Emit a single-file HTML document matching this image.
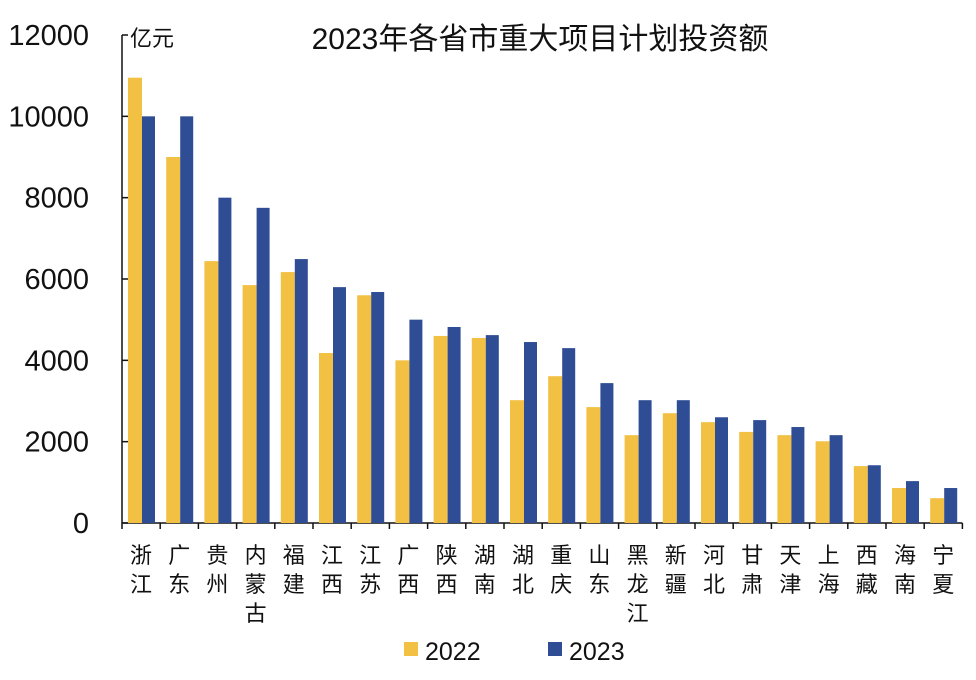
<!DOCTYPE html>
<html><head><meta charset="utf-8"><style>
body{margin:0;background:#fff;}
svg text{font-family:"Liberation Sans","Noto Sans CJK SC",sans-serif;}
</style></head><body>
<svg id="c" width="976" height="675" viewBox="0 0 976 675" xmlns="http://www.w3.org/2000/svg">
<text x="540" y="49" font-size="30" text-anchor="middle" fill="#111">2023年各省市重大项目计划投资额</text>
<text x="130" y="46" font-size="22" fill="#111">亿元</text>
<g id="axes"></g><g id="bars"></g><g id="labels"></g>
<g>
<rect x="404" y="642" width="14" height="14" fill="#f2c144"/>
<text x="425" y="660" font-size="25" fill="#111">2022</text>
<rect x="548" y="642" width="14" height="14" fill="#2e4d94"/>
<text x="569" y="660" font-size="25" fill="#111">2023</text>
</g>
</svg>
<script>
const categories=["浙江","广东","贵州","内蒙古","福建","江西","江苏","广西","陕西","湖南","湖北","重庆","山东","黑龙江","新疆","河北","甘肃","天津","上海","西藏","海南","宁夏"];
const values2022=[10950,9000,6440,5850,6170,4180,5600,4000,4600,4550,3020,3610,2850,2160,2700,2480,2240,2160,2010,1400,860,610];
const values2023=[10000,10000,8000,7750,6490,5800,5680,5000,4820,4620,4450,4300,3440,3020,3020,2600,2530,2360,2160,1420,1030,860];
const yTicks=[0,2000,4000,6000,8000,10000,12000];
const NS="http://www.w3.org/2000/svg";
const x0=122,bw=38.2,y0=523,yTop=35,yMax=12000;
const y=v=>y0-(v/yMax)*(y0-yTop);
const xc=i=>x0+i*bw;
function mk(t,a,p){const e=document.createElementNS(NS,t);for(const k in a)e.setAttribute(k,a[k]);p.appendChild(e);return e;}
const axes=document.getElementById('axes'),bars=document.getElementById('bars'),labels=document.getElementById('labels');
const n=categories.length;
let yl=mk('line',{x1:x0,y1:yTop,x2:x0,y2:y0,stroke:'#111','stroke-width':1.5},axes);


let xl=mk('line',{x1:x0,y1:y0,x2:xc(n),y2:y0,stroke:'#111','stroke-width':1.5},axes);


yTicks.forEach(v=>{
  mk('line',{x1:x0,y1:y(v),x2:x0+6,y2:y(v),stroke:'#111','stroke-width':1.5},axes);
  const t=mk('text',{x:89,y:y(v)+10,'font-size':29,'text-anchor':'end',fill:'#111'},axes);
  t.textContent=v;
  
  
});
for(let i=0;i<=n;i++){mk('line',{x1:xc(i),y1:y0,x2:xc(i),y2:y0+6,stroke:'#111','stroke-width':1.5},axes);}
categories.forEach((c,i)=>{
  const a=mk('rect',{x:xc(i)+6,y:y(values2022[i]),width:14,height:y0-y(values2022[i]),fill:'#f2c144'},bars);
  
  
  const b=mk('rect',{x:xc(i)+20,y:y(values2023[i]),width:13,height:y0-y(values2023[i]),fill:'#2e4d94'},bars);
  
  
  [...c].forEach((ch,j)=>{
    const t=mk('text',{x:xc(i)+19,y:563+j*29,'font-size':22,'text-anchor':'middle',fill:'#111'},labels);
    t.textContent=ch;
    
    
  });
});
</script>
</body></html>
